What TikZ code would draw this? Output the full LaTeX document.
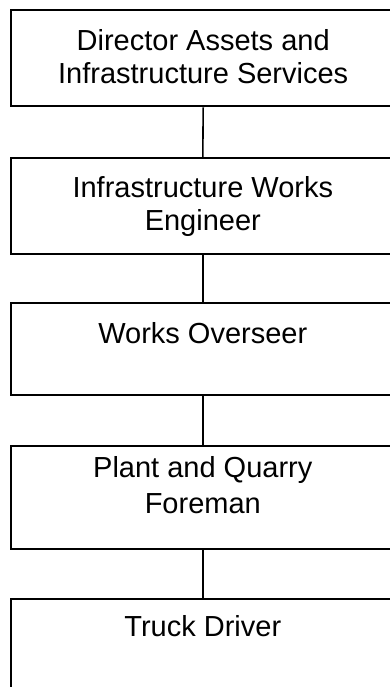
\documentclass[tikz,border=0pt]{standalone}
\usepackage{fontspec}
\setmainfont{Liberation Sans}
\begin{document}
\begin{tikzpicture}[x=1pt,y=1pt,
  box/.style={draw=black, line width=1.6pt, minimum width=384pt, inner sep=0pt, anchor=north west},
  caption/.style={anchor=north, align=center, inner sep=0pt,
    font=\fontsize{29}{33}\selectfont},
  link/.style={line width=1.6pt}]
\useasboundingbox (0,0) rectangle (389,-687);
% role boxes (the last one runs past the lower edge)
\node[box, line width=2.4pt, minimum height=96pt] (b1) at (10,-9) {};
\node[box, minimum height=96pt] (b2) at (10,-157) {};
\node[box, minimum height=92pt] (b3) at (10,-302) {};
\node[box, minimum height=103pt] (b4) at (10,-445) {};
\node[box, minimum height=120pt] (b5) at (10,-598) {};
% titles, set near the top of each box
\node[caption] (t1) at ([yshift=-20pt]b1.north) {Director Assets and\\Infrastructure Services};
\node[caption] (t2) at ([yshift=-19pt]b2.north) {Infrastructure Works\\Engineer};
\node[caption] (t3) at ([yshift=-20pt]b3.north) {Works Overseer};
\node[caption, font=\fontsize{29}{36}\selectfont] (t4) at ([yshift=-11pt]b4.north) {Plant and Quarry\\Foreman};
\node[caption] (t5) at ([yshift=-17pt]b5.north) {Truck Driver};
% reporting lines
\draw[link] (b1.south) -- (b2.north);
\draw[link] (b2.south) -- (b3.north);
\draw[link] (b3.south) -- (b4.north);
\draw[link] (b4.south) -- (b5.north);
\end{tikzpicture}
\end{document}
